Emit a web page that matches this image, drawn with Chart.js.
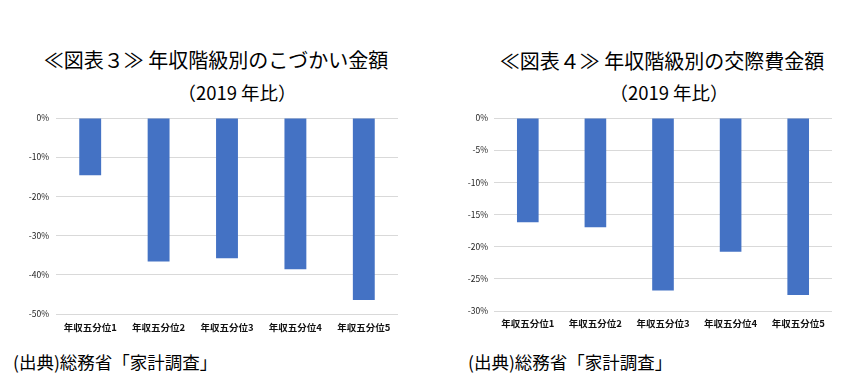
<!DOCTYPE html>
<html>
<head>
<meta charset="utf-8">
<script src="https://cdn.jsdelivr.net/npm/chart.js@4/dist/chart.umd.min.js"></script>
<style>
  body { margin: 0; background: #fff; width: 844px; height: 376px; overflow: hidden; position: relative;
         font-family: "Noto Sans CJK JP", "Noto Sans", sans-serif; color: #000; }
  .box { position: absolute; }
  .t { position: absolute; white-space: nowrap; transform: translate(-50%, -50%); line-height: 1; font-weight: 400; }
  .src { position: absolute; white-space: nowrap; font-size: 17.5px; line-height: 1; transform: translateY(-50%); }
</style>
</head>
<body>
<div class="t" style="left:216px; top:60px; font-size:20px;">≪図表３≫ 年収階級別のこづかい金額</div>
<div class="t" style="left:237px; top:92px; font-size:18.5px;">（2019 年比）</div>
<div class="t" style="left:662px; top:61px; font-size:20px;">≪図表４≫ 年収階級別の交際費金額</div>
<div class="t" style="left:669px; top:92px; font-size:18.5px;">（2019 年比）</div>

<div class="box" style="left:0px; top:100px; width:420px; height:240px;"><canvas id="allowanceChart"></canvas></div>
<div class="box" style="left:430px; top:100px; width:414px; height:240px;"><canvas id="socialChart"></canvas></div>

<div class="src" style="left:13px; top:362px;">(出典)総務省「家計調査」</div>
<div class="src" style="left:468px; top:362px;">(出典)総務省「家計調査」</div>

<script>
// 年収五分位
const categories = ['年収五分位1', '年収五分位2', '年収五分位3', '年収五分位4', '年収五分位5'];

// こづかい金額 (2019年比, %)
const allowanceChange = [-14.6, -36.6, -35.8, -38.6, -46.4];
// 交際費金額 (2019年比, %)
const socialChange = [-16.2, -17.0, -26.8, -20.8, -27.5];

const allowanceMin = -50;
const allowanceStep = 10;
const socialMin = -30;
const socialStep = 5;

const barColor = '#4472C4';
const gridColor = '#d9d9d9';

function makeConfig(values, yMin, yStep, yWidth, yPad, xHeight, xPad, padRight) {
    return {
        type: 'bar',
        data: {
            labels: categories,
            datasets: [{
                data: values,
                backgroundColor: barColor,
                borderWidth: 0,
                categoryPercentage: 1,
                barPercentage: 0.32
            }]
        },
        options: {
            responsive: true,
            maintainAspectRatio: false,
            animation: false,
            layout: { padding: { top: 18, right: padRight, bottom: 0, left: 0 } },
            plugins: {
                legend: { display: false },
                tooltip: { enabled: false }
            },
            scales: {
                x: {
                    grid: { display: false, drawTicks: false },
                    border: { display: false },
                    ticks: {
                        padding: xPad,
                        color: '#111',
                        font: { family: '"Noto Sans CJK JP"', size: 9.5, weight: 'bold' },
                        maxRotation: 0
                    },
                    afterFit: (scale) => { scale.height = xHeight; }
                },
                y: {
                    min: yMin,
                    max: 0,
                    grid: { color: gridColor, lineWidth: 1, drawTicks: false },
                    border: { display: false },
                    ticks: {
                        stepSize: yStep,
                        padding: yPad,
                        color: '#222',
                        font: { family: '"Noto Sans CJK JP"', size: 8.5 },
                        callback: (v) => v + '%'
                    },
                    afterFit: (scale) => { scale.width = yWidth; }
                }
            }
        }
    };
}

new Chart(document.getElementById('allowanceChart'),
    makeConfig(allowanceChange, allowanceMin, allowanceStep, 56, 7, 26, 8, 22));
new Chart(document.getElementById('socialChart'),
    makeConfig(socialChange, socialMin, socialStep, 64, 6, 29, 7, 12));
</script>
</body>
</html>
